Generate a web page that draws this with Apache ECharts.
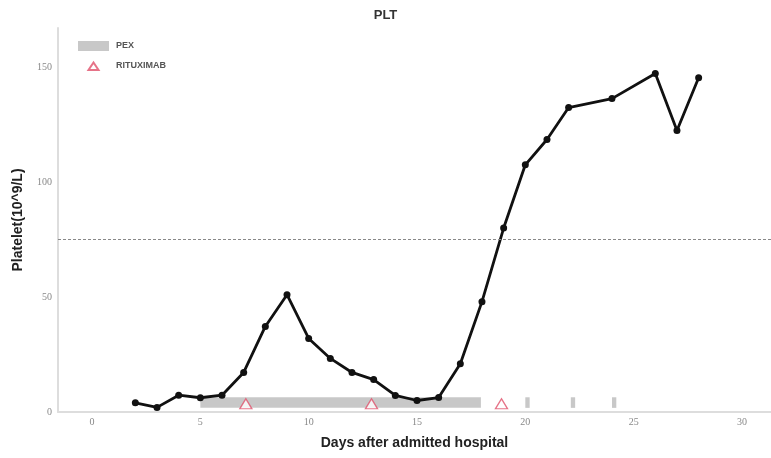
<!DOCTYPE html>
<html>
<head>
<meta charset="utf-8">
<script src="https://cdn.jsdelivr.net/npm/echarts@6/dist/echarts.min.js"></script>
<style>html,body{margin:0;padding:0;background:#fff;}#c{width:771px;height:458px;}</style>
</head>
<body>
<div id="c"></div>
<script>
const days = [2,3,4,5,6,7,8,9,10,11,12,13,14,15,16,17,18,19,20,21,22,24,26,27,28];
const plt  = [4,2,7.3,6.2,7.3,17.2,37.2,51,32,23.3,17.2,14.1,7.2,5,6.3,21,48,80,107.5,118.5,132.4,136.3,147.2,122.4,145.4];
const pexStart = [5, 20, 22.1, 24];
const pexEnd   = [17.95, 20.2, 22.3, 24.2];
const pexLow = 1.8, pexHigh = 6.4;
const rituxDays = [7.1, 12.9, 18.9];
const rituxLevel = 3.6;
const threshold = 75;
const xTicks = [0,5,10,15,20,25,30];
const yTicks = [0,50,100,150];

const font = '"Liberation Sans", Arial, sans-serif';
const tickFont = '"Liberation Serif", "Times New Roman", serif';

const chart = echarts.init(document.getElementById('c'));
chart.setOption({
  animation: false,
  backgroundColor: '#fff',
  title: {text: 'PLT', left: 'center', top: 4,
    textStyle: {fontFamily: font, fontSize: 13, fontWeight: 'bold', color: '#333'}},
  grid: {left: 58, right: 0, top: 28, bottom: 46},
  legend: {
    orient: 'vertical', left: 72, top: 36, itemWidth: 31, itemHeight: 10, itemGap: 9,
    symbolKeepAspect: true,
    textStyle: {fontFamily: font, fontSize: 9, fontWeight: 'bold', color: '#555', padding: [0,0,0,2]},
    data: [{name: 'PEX', icon: 'rect'}, {name: 'RITUXIMAB', icon: 'path://M0,0L0.001,0M15.5,1.5L20.5,9L10.5,9Z M31,10L30.999,10'}]
  },
  xAxis: {
    type: 'value', min: -1.57, max: 31.34,
    name: 'Days after admitted hospital', nameLocation: 'middle', nameGap: 24,
    nameTextStyle: {fontFamily: font, fontSize: 14, fontWeight: 'bold', color: '#222'},
    axisLine: {show: true, onZero: false, lineStyle: {color: '#ddd', width: 2}},
    axisTick: {show: false},
    splitLine: {show: false},
    axisLabel: {customValues: xTicks, fontFamily: tickFont, fontSize: 10, color: '#888', margin: 5}
  },
  yAxis: {
    type: 'value', min: 0, max: 167,
    name: 'Platelet(10^9/L)', nameLocation: 'middle', nameGap: 33, nameRotate: 90,
    nameTextStyle: {fontFamily: font, fontSize: 14, fontWeight: 'bold', color: '#222'},
    axisLine: {show: true, onZero: false, lineStyle: {color: '#ddd', width: 2}},
    axisTick: {show: false},
    splitLine: {show: false},
    axisLabel: {customValues: yTicks, fontFamily: tickFont, fontSize: 10, color: '#888', margin: 6}
  },
  series: [
    {
      name: 'PEX', type: 'custom',
      itemStyle: {color: '#c8c8c8'},
      data: pexStart.map((s, i) => [s, pexEnd[i], pexLow, pexHigh]),
      encode: {x: [0, 1], y: [2, 3]},
      renderItem: function (params, api) {
        const p1 = api.coord([api.value(0), api.value(3)]);
        const p2 = api.coord([api.value(1), api.value(2)]);
        return {type: 'rect', shape: {x: p1[0], y: p1[1], width: p2[0] - p1[0], height: p2[1] - p1[1]},
          style: {fill: '#c8c8c8'}};
      },
      z: 1
    },
    {
      name: 'RITUXIMAB', type: 'scatter', symbol: 'triangle', symbolSize: [12, 10],
      itemStyle: {color: '#fff', borderColor: '#e0506a', borderWidth: 1.3},
      data: rituxDays.map(d => [d, rituxLevel]), z: 3
    },
    {
      name: 'PLT', type: 'line', data: days.map((d, i) => [d, plt[i]]),
      symbol: 'circle', symbolSize: 7, showSymbol: true,
      lineStyle: {color: '#111', width: 2.8},
      itemStyle: {color: '#111'},
      z: 4,
      markLine: {
        silent: true, symbol: 'none', label: {show: false},
        lineStyle: {color: '#888', type: [3, 2], width: 1},
        data: [{yAxis: threshold}]
      }
    }
  ]
});
</script>
</body>
</html>
